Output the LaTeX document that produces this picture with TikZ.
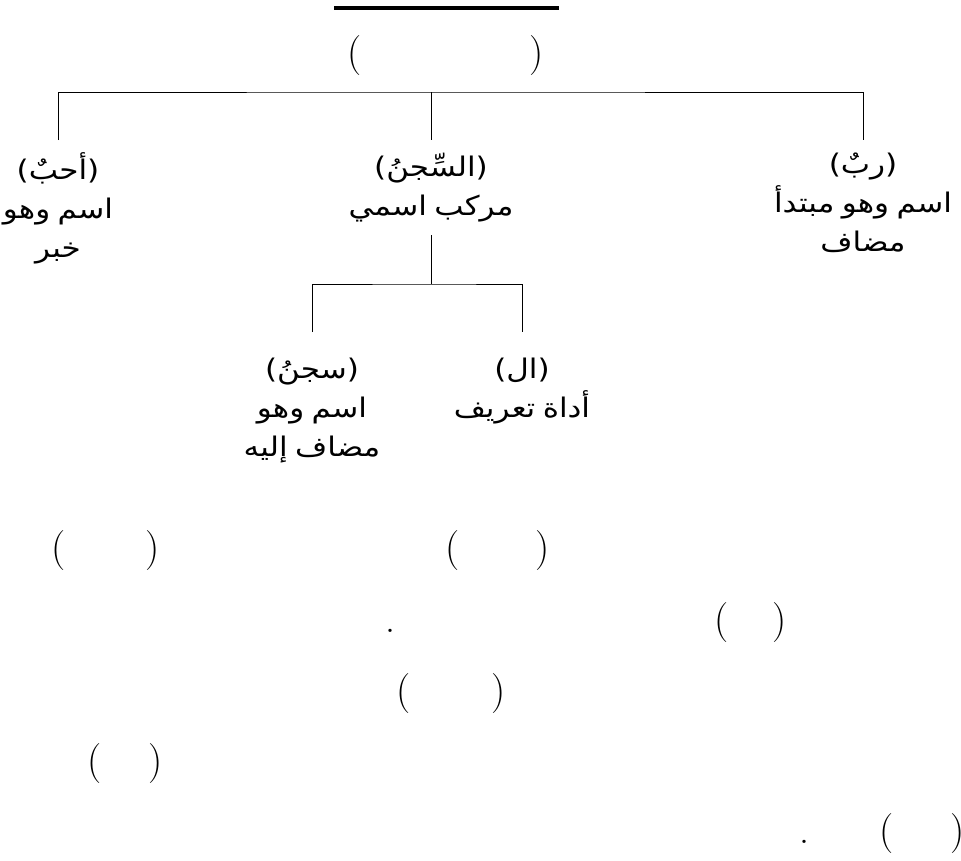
\documentclass[tikz,border=0pt]{standalone}
\usepackage{fontspec}
\newfontfamily\arabicfont[Script=Arabic,FakeStretch=1.15,WordSpace=0.75]{DejaVu Sans}
\TeXXeTstate=1
\usetikzlibrary{positioning}

\begin{document}
\begin{tikzpicture}[x=1pt,y=-1pt,
lbl/.style={align=center,inner sep=0pt,outer ysep=13pt,anchor=north,
  font=\arabicfont\fontsize{27}{39}\selectfont},
lowlbl/.style={lbl,outer ysep=26pt},
brk/.style={inner sep=0pt,anchor=base,font=\fontsize{40}{40}\selectfont},
tree/.style={line width=1pt}]
\useasboundingbox (0,0) rectangle (961,860);
\draw[line width=3.2pt] (334,8) -- (559,8);

% first level
\node[lbl] (ahabbu) at (58,140) {\beginR(أحبٌ)\endR\\\beginR اسم وهو\endR\\\beginR خبر\endR};
\node[lbl] (alsijn) at (431,140) {\beginR(السِّجنُ)\endR\\\beginR مركب اسمي\endR};
\node[lbl] (rabbu) at (863,140) {\beginR(ربٌ)\endR\\\beginR اسم وهو مبتدأ\endR\\\beginR مضاف\endR};
\coordinate (top) at (431,92);
\draw[tree] (ahabbu.north) |- (top) -| (rabbu.north);
\draw[tree] (top) -- (alsijn.north);

% second level
\node[lowlbl] (sijn) at (312,332) {\beginR(سجنُ)\endR\\\beginR اسم وهو\endR\\\beginR مضاف إليه\endR};
\node[lowlbl] (al) at (522,332) {\beginR(ال)\endR\\\beginR أداة تعريف\endR};
\coordinate (mid) at (431,284);
\draw[tree] (alsijn.south) -- (mid);
\draw[tree] (sijn.north) |- (mid) -| (al.north);

% loose brackets
\foreach \l/\r/\y [count=\i] in {355/537/65,59/153/560,453/543/560,722/780/632,
  404/499/703,95/156/773,887/958/843}{
  \node[brk] (open\i) at (\l,\y) {(};
  \node[brk] (close\i) at (\r,\y) {)};
}
\node[brk] (dotA) at (390,632) {.};
\node[brk] (dotB) at (804,843) {.};
\end{tikzpicture}
\end{document}
